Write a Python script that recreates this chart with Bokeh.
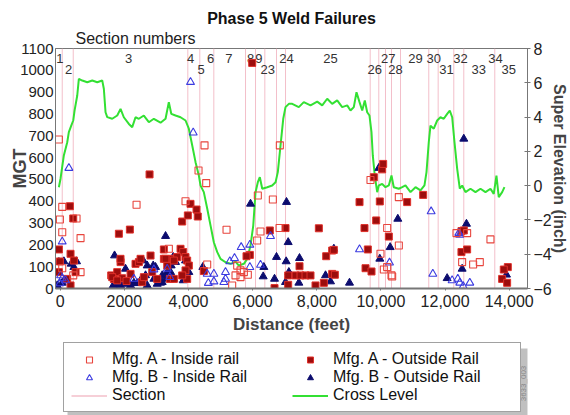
import math
from bokeh.plotting import figure
from bokeh.layouts import column
from bokeh.models import (Label, Legend, LegendItem, LinearAxis, Range1d,
                          FixedTicker, Title, BoxAnnotation)
from bokeh.core.properties import value
from bokeh.embed import file_html
from bokeh.resources import INLINE

# ---------------- data ----------------
x_ticks = [0, 2000, 4000, 6000, 8000, 10000, 12000, 14000]
x_tick_labels = ["0", "2000", "4,000", "6,000", "8,000", "10,000", "12,000", "14,000"]
mgt_ticks = [0, 100, 200, 300, 400, 500, 600, 700, 800, 900, 1000, 1100]
se_ticks = [-6, -4, -2, 0, 2, 4, 6, 8]

# section boundaries (feet)
sections = [65, 408, 3980, 4354, 4791, 5779, 6091, 6381, 6745, 7026,
            9666, 9934, 10143, 10330, 10611, 11492, 11785, 12272, 12584, 13550]

# section number labels: position (feet) and row height (MGT)
sec_labels = ["1", "2", "3", "4", "5", "6", "7", "8", "9", "23", "24", "25",
              "26", "27", "28", "29", "30", "31", "32", "33", "34", "35"]
sec_label_x = [-9, 262, 2132, 4065, 4398, 4688, 5258, 5935, 6194, 6474, 7057, 8428,
               9809, 10227, 10454, 11078, 11648, 12044, 12480, 13051, 13572, 13986]
sec_label_y = [1056, 1006, 1056, 1056, 1006, 1056, 1056, 1056, 1056, 1006, 1056, 1056,
               1006, 1056, 1006, 1056, 1056, 1006, 1056, 1006, 1056, 1006]

# cross level (inch) along distance
cl_x = [-40, 13, 115, 221, 271, 346, 408, 449, 533, 583,
        689, 845, 1001, 1156, 1312, 1362, 1415, 1468, 1624, 1780,
        1883, 1985, 2142, 2247, 2350, 2454, 2609, 2765, 2921, 3130,
        3286, 3388, 3464, 3597, 3753, 3909, 4012, 4118, 4221, 4324,
        4377, 4479, 4586, 4689, 4791, 4898, 5000, 5156, 5312, 5468,
        5570, 5727, 5832, 5935, 6020, 6091, 6163, 6225, 6300, 6456,
        6611, 6715, 6786, 6870, 6955, 7026, 7130, 7235, 7440, 7596,
        7805, 8014, 8170, 8326, 8481, 8637, 8793, 8949, 9052, 9155,
        9239, 9333, 9417, 9498, 9572, 9644, 9706, 9747, 9809, 9884,
        9934, 10040, 10143, 10246, 10330, 10401, 10557, 10663, 10766, 10922,
        11078, 11234, 11358, 11421, 11492, 11545, 11648, 11754, 11857, 11960,
        12066, 12147, 12222, 12294, 12378, 12459, 12534, 12636, 12792, 12948,
        13104, 13260, 13416, 13518, 13602, 13674, 13780, 13852]
cl_y = [-0.09, 0.42, 1.76, 2.53, 3.12, 3.5, 3.8, 4.38, 5.26, 6.23,
        6.13, 6.03, 6.13, 6.03, 6.13, 5.65, 4.28, 4.0, 3.9, 4.09,
        4.48, 3.99, 3.6, 3.41, 3.99, 3.9, 4.09, 3.7, 3.9, 3.67,
        3.9, 4.87, 4.19, 4.09, 3.99, 3.8, 3.32, 2.34, 1.37, 0.59,
        0.0, -0.38, -1.35, -2.33, -3.3, -3.88, -4.27, -4.47, -4.56, -4.43,
        -4.66, -4.56, -4.27, -3.49, -2.33, -0.38, 0.2, 0.49, -0.18, -0.09,
        0.01, 0.2, 0.79, 2.34, 3.9, 4.58, 4.77, 4.77, 4.58, 4.87,
        4.68, 4.9, 4.68, 5.07, 4.77, 4.97, 4.58, 4.68, 4.38, 4.58,
        5.45, 4.87, 4.38, 4.97, 4.28, 4.09, 3.12, 1.76, 0.59, -0.38,
        0.01, 0.1, -0.09, 0.01, 0.59, -0.09, -0.18, -0.09, 0.01, -0.38,
        -0.09, -0.28, 0.01, 0.79, 2.53, 3.5, 3.32, 3.8, 3.99, 3.9,
        4.19, 4.38, 3.99, 2.53, 0.98, -0.18, 0.01, -0.38, -0.18, -0.38,
        -0.18, -0.38, -0.18, -0.48, 0.59, -0.67, -0.38, -0.09]

# Mfg. A - Inside rail (open red squares)
ai_x = [-40, 65, -8, 65, 636, 511, 65, 636, 408,
        2382, 3389, 3908, 4314, 4553, 4501, 4584,
        5187, 5519, 5623, 5727, 5851, 5623, 5467, 5363,
        6163, 6631, 6849, 6246, 6142, 6839,
        9675, 9987, 10091, 10330, 10195, 10559, 10195, 10351, 10558,
        12356, 12688, 12532, 12875, 13083, 13415]
ai_y = [683, 374, 316, 258, 231, 321, 93, 75, 60,
        384, 182, 400, 541, 483, 656, 110,
        269, 105, 83, 75, 63, 52, 60, 14,
        426, 408, 656, 261, 220, 277,
        497, 159, 87, 60, 277, 197, 98, 55, 419,
        254, 254, 121, 110, 121, 225]

# Mfg. A - Outside Rail (filled dark red squares)
ao_x = [304, 408, -39, 324, 428, -39, 480, 220, 324, -9,
        1831, 2174, 2787, 1592, 1675, 1779, 1883, 1935, 2195, 2350,
        2454, 2558, 2818, 2870, 3026, 3234, 3338, 3421, 3493, 1882,
        2506, 3233, 3805, 3981, 4064, 4251, 4290, 3753, 3836, 3908,
        3960, 4012, 3649, 3545, 3285, 3908, 3960, 1623, 1779, 2069,
        2610, 3545, 3805, 4480,
        5987, 5914, 5810, 6537, 7026, 6683,
        8065, 9333, 9488, 9592, 8481, 8294, 8532, 9520, 9707, 7462,
        7338, 7494, 7649, 7805, 7961, 8221, 8481, 8564, 7109, 7109,
        10039, 10070, 9966, 9852, 10247, 9780,
        10818, 11317, 12511, 12584, 12511, 12688, 13956, 13831, 13779, 13935]
ao_y = [377, 321, 179, 159, 128, 75, 75, 44, 14, 124,
        251, 270, 523, 60, 44, 75, 121, 47, 67, 113,
        121, 29, 151, 75, 44, 136, 105, 44, 136, 136,
        136, 179, 307, 335, 388, 362, 330, 182, 167, 144,
        128, 105, 144, 128, 136, 83, 44, 52, 37, 34,
        52, 44, 60, 80,
        1034, 154, 148, 266, 277, 2,
        276, 396, 277, 179, 174, 148, 177, 93, 78, 102,
        60, 60, 60, 60, 14, 26, 67, 63, 60, 17,
        546, 571, 399, 312, 238, 510,
        396, 429, 263, 266, 167, 179, 98, 87, 44, 26]

# Mfg. B - Inside Rail (open blue triangles)
bi_x = [272, 65, 168, 13, -8, 64,
        2299, 2922, 3337, 3420,
        4064, 4148,
        5644, 5914, 5436, 5290, 5914, 6246, 4584, 4792, 5155, 5155, 6558, 4620, 4792, 5103,
        9333, 10268,
        11566, 11618, 12429, 12459, 12220, 12397, 12459, 12563, 12771]
bi_y = [552, 215, 37, 60, 23, 46,
        44, 87, 90, 52,
        946, 714,
        189, 200, 139, 124, 98, 108, 67, 67, 75, 44, 240, 25, 32, 29,
        179, 118,
        353, 67, 254, 246, 37, 44, 26, 11, 26]

# Mfg. B - Outside Rail (filled navy triangles)
bo_x = [-39, 117, 345, 511, -91, 65, 428,
        1696, 3286, 1779, 1987, 2299, 2506, 2662, 2714, 2922, 2974, 3130, 3182,
        3286, 3441, 3545, 1654, 2195, 2038, 2589, 2901, 3524, 3597, 3461, 3337,
        3181, 3026, 2714, 2402, 2090, 1882, 3908, 3836, 4012,
        4449, 5935, 7057, 6745, 6683, 6350, 6330, 7109,
        8533, 9021, 7462, 7047, 7130, 7182, 8273, 8429, 7442, 7026,
        9935, 10527, 10288, 9966,
        12584, 12667, 12532, 12065, 13914]
bo_y = [121, 124, 113, 124, 14, 26, 98,
        151, 240, 21, 29, 26, 37, 60, 105, 44, 98, 26, 60,
        44, 75, 44, 14, 14, 90, 128, 105, 144, 121, 105, 75,
        29, 21, 14, 24, 21, 14, 128, 37, 75,
        98, 388, 396, 144, 44, 98, 55, 212,
        182, 26, 139, 124, 75, 60, 60, 32, 26, 29,
        552, 319, 189, 136,
        686, 296, 90, 47, 63]

# ---------------- styles ----------------
FONT = "Liberation Sans"
C_AI = "#e8463e"
C_AO_FILL, C_AO_LINE = "#9c0d0d", "#e0302a"
C_BI = "#3b3be0"
C_BO = "#0c0c6e"
C_SEC = "#f3bfca"
C_CL = "#33e033"
AXIS_C = "#777777"

ST_AI = dict(marker="square", fill_color=None, line_color=C_AI, line_width=1.1)
ST_AO = dict(marker="square", fill_color=C_AO_FILL, line_color=C_AO_LINE, line_width=1)
ST_BI = dict(marker="triangle", fill_color=None, line_color=C_BI, line_width=1.1)
ST_BO = dict(marker="triangle", fill_color=C_BO, line_color=C_BO, line_width=1)

# ---------------- main figure ----------------
p = figure(width=570, height=338, x_range=Range1d(-145, 14570),
           y_range=Range1d(0, 1100), output_backend="svg", toolbar_location=None,
           min_border_left=55, min_border_right=43, min_border_top=48,
           min_border_bottom=50, title="Phase 5 Weld Failures")
p.extra_y_ranges = {"se": Range1d(-6, 8)}
p.xgrid.visible = False
p.ygrid.visible = False
p.outline_line_color = AXIS_C
p.outline_line_width = 1

p.title.align = "center"
p.title.offset = 3
p.title.standoff = 0
p.title.text_font = FONT
p.title.text_font_size = "16px"
p.title.text_font_style = "bold"
p.title.text_color = "#111111"
p.add_layout(Title(text="Section numbers", align="left", offset=20,
                   standoff=3, text_font=FONT, text_font_size="16px",
                   text_font_style="normal", text_color="#222222"), "above")

# x axis
xa = p.xaxis[0]
xa.ticker = FixedTicker(ticks=x_ticks)
xa.major_label_overrides = {t: s for t, s in zip(x_ticks, x_tick_labels)}
xa.axis_label = "Distance (feet)"
xa.axis_label_text_font = FONT
xa.axis_label_text_font_style = "bold"
xa.axis_label_text_font_size = "17px"
xa.axis_label_standoff = 5
xa.major_label_text_font = FONT
xa.major_label_text_font_size = "16px"
xa.major_label_text_color = "#222222"
xa.major_label_standoff = 4
xa.axis_line_color = AXIS_C
xa.axis_line_width = 2
xa.major_tick_in = 0
xa.major_tick_out = 2
xa.major_tick_line_color = AXIS_C
xa.minor_tick_line_color = None

# left axis
ya = p.yaxis[0]
ya.ticker = FixedTicker(ticks=mgt_ticks)
ya.axis_label = "MGT"
ya.axis_label_text_font = FONT
ya.axis_label_text_font_style = "bold"
ya.axis_label_text_font_size = "18px"
ya.axis_label_standoff = -13
ya.major_label_text_font = FONT
ya.major_label_text_font_size = "15px"
ya.major_label_text_color = "#222222"
ya.major_label_standoff = 2
ya.axis_line_color = AXIS_C
ya.major_tick_in = 0
ya.major_tick_out = 0
ya.minor_tick_line_color = None

# right axis
ra = LinearAxis(y_range_name="se", ticker=FixedTicker(ticks=se_ticks))
ra.axis_label = "Super Elevation (inch)"
ra.axis_label_text_font = FONT
ra.axis_label_text_font_style = "bold"
ra.axis_label_text_font_size = "16px"
ra.axis_label_standoff = -4
ra.major_label_text_font = FONT
ra.major_label_text_font_size = "16px"
ra.major_label_text_color = "#222222"
ra.major_label_standoff = 3
ra.axis_line_color = AXIS_C
ra.major_tick_in = 3
ra.major_tick_out = 3
ra.major_tick_line_color = AXIS_C
ra.minor_tick_line_color = None
p.add_layout(ra, "right")

# section lines
p.segment(x0=sections, y0=[0] * len(sections), x1=sections,
          y1=[1100] * len(sections), line_color=C_SEC, line_width=1)

# section numbers
p.text(x=sec_label_x, y=sec_label_y, text=sec_labels, text_font=value(FONT),
       text_font_size="13px", text_color="#333333", text_align="center",
       text_baseline="middle")

# cross level
p.line(cl_x, cl_y, y_range_name="se", line_color=C_CL, line_width=2)

# scatter series
p.scatter(bo_x, bo_y, size=8, **ST_BO)
p.scatter(ao_x, ao_y, size=7, **ST_AO)
p.scatter(bi_x, bi_y, size=8, **ST_BI)
p.scatter(ai_x, ai_y, size=7, **ST_AI)

# ---------------- legend strip ----------------
# The legend lives in its own strip; its ranges lie far outside the data so the
# series drawn here only serve as legend glyph sources and remain out of view.
q = figure(width=570, height=77, x_range=Range1d(50000, 50001),
           y_range=Range1d(50000, 50001),
           x_axis_location=None, y_axis_location=None, output_backend="svg",
           toolbar_location=None, min_border=0, outline_line_color=None)
q.grid.visible = False

g_ai = q.scatter(ai_x, ai_y, size=9, **ST_AI)
g_ao = q.scatter(ao_x, ao_y, size=9, **ST_AO)
g_bi = q.scatter(bi_x, bi_y, size=10, **ST_BI)
g_bo = q.scatter(bo_x, bo_y, size=10, **ST_BO)
g_sec = q.segment(x0=sections, y0=[0] * len(sections), x1=sections,
                  y1=[1100] * len(sections), line_color=C_SEC, line_width=1.5)
g_cl = q.line(cl_x, cl_y, line_color=C_CL, line_width=2)

q.add_layout(BoxAnnotation(left=12, right=473, bottom=0, top=67,
                           left_units="screen", right_units="screen",
                           bottom_units="screen", top_units="screen",
                           fill_color="#b0b0b0", fill_alpha=0.8, line_color=None))

legend = Legend(items=[
    LegendItem(label="Mfg. A - Inside rail", renderers=[g_ai]),
    LegendItem(label="Mfg. B - Inside Rail", renderers=[g_bi]),
    LegendItem(label="Section", renderers=[g_sec]),
    LegendItem(label="Mfg. A - Outside Rail", renderers=[g_ao]),
    LegendItem(label="Mfg. B - Outside Rail", renderers=[g_bo]),
    LegendItem(label="Cross Level", renderers=[g_cl]),
], ncols=2, location=(8, 3), orientation="vertical")
legend.label_text_font = FONT
legend.label_text_font_size = "16px"
legend.label_text_color = "#111111"
legend.glyph_width = 36
legend.glyph_height = 15
legend.label_height = 15
legend.label_width = 180
legend.label_standoff = 5
legend.spacing = 0
legend.padding = 7
legend.margin = 0
legend.border_line_color = "#444444"
legend.border_line_width = 1
legend.background_fill_color = "white"
legend.background_fill_alpha = 1.0
q.add_layout(legend, "center")

q.add_layout(Label(x=468, y=32, x_units="screen", y_units="screen",
                   text="3633_003", text_font=FONT, text_font_size="8px",
                   text_color="#888888", text_align="center",
                   text_baseline="middle", angle=math.pi / 2))

open("out.html", "w").write(file_html(column(p, q), INLINE))
